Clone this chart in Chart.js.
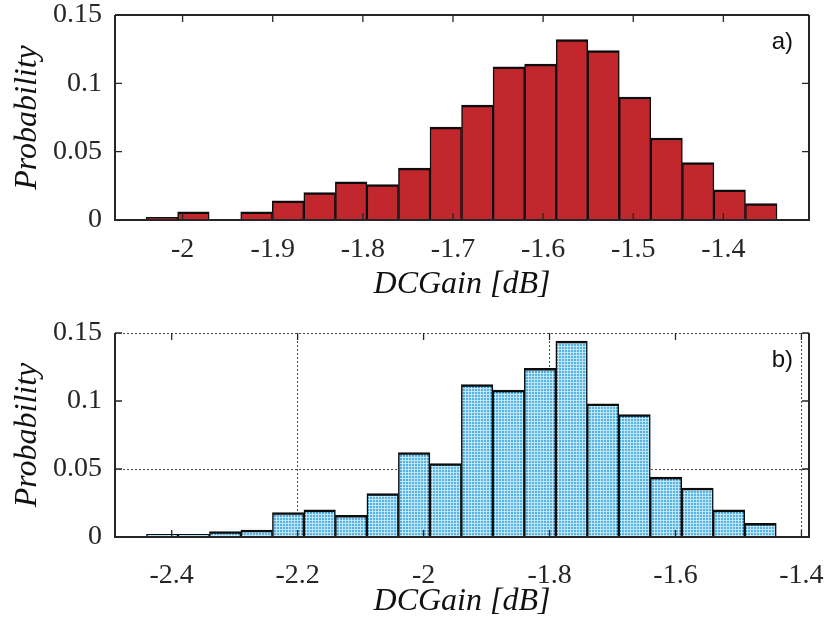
<!DOCTYPE html>
<html>
<head>
<meta charset="utf-8">
<script src="https://cdn.jsdelivr.net/npm/chart.js@4.4.0/dist/chart.umd.min.js"></script>
<style>
  html, body { margin: 0; padding: 0; background: #fff; }
  #wrap { position: relative; width: 831px; height: 621px; }
  canvas { position: absolute; left: 0; }
  #chartA { top: 0; }
  #chartB { top: 310px; }
</style>
</head>
<body>
<div id="wrap">
  <canvas id="chartA" width="831" height="310"></canvas>
  <canvas id="chartB" width="831" height="311"></canvas>
</div>
<script>
// a) bin centres [dB] and probabilities
const binsA = [-2.023, -1.988, -1.953, -1.918, -1.883, -1.848, -1.813, -1.778, -1.743, -1.708,
               -1.673, -1.638, -1.603, -1.568, -1.533, -1.498, -1.463, -1.428, -1.393, -1.358];
const probA = [0.002, 0.006, 0, 0.006, 0.014, 0.020, 0.028, 0.026, 0.038, 0.068,
               0.084, 0.112, 0.114, 0.132, 0.124, 0.090, 0.060, 0.042, 0.022, 0.012];

// b) bin centres [dB] and probabilities
const binsB = [-2.415, -2.365, -2.315, -2.265, -2.215, -2.165, -2.115, -2.065, -2.015, -1.965,
               -1.915, -1.865, -1.815, -1.765, -1.715, -1.665, -1.615, -1.565, -1.515, -1.465];
const probB = [0.002, 0.002, 0.004, 0.005, 0.018, 0.020, 0.016, 0.032, 0.062, 0.054,
               0.112, 0.108, 0.124, 0.144, 0.098, 0.090, 0.044, 0.036, 0.020, 0.010];

// tick labels
const probTicks = [0, 0.05, 0.1, 0.15];
const gainTicksA = [-2, -1.9, -1.8, -1.7, -1.6, -1.5, -1.4];
const gainTicksB = [-2.4, -2.2, -2, -1.8, -1.6, -1.4];
// dotted grid only on these values (panel b)
const gridLinesBx = [-2.2, -1.8, -1.4];
const gridLinesBy = [0.05, 0.15];

const INK = '#262626';
const SERIF = '"Liberation Serif", "Times New Roman", serif';

// light blue dotted fill like the original
function dotPattern() {
    const c = document.createElement('canvas');
    c.width = 3; c.height = 3;
    const g = c.getContext('2d');
    g.fillStyle = 'rgba(50,162,220,0.82)';
    g.fillRect(0, 0, 3, 3);
    g.fillStyle = 'rgba(205,235,249,0.85)';
    g.fillRect(0, 0, 3, 1);
    g.fillRect(0, 0, 1, 3);
    return g.createPattern(c, 'repeat');
}

const near = (v, list) => list.some(t => Math.abs(t - v) < 1e-6);

// keep the plot box where the layout padding puts it
const noScalePadding = s => {
    s.paddingTop = 0; s.paddingBottom = 0;
    s.paddingLeft = 0; s.paddingRight = 0;
};

// box, inner tick marks and panel tag (drawn over the bars)
const framePlugin = {
    id: 'frame',
    afterDatasetsDraw(chart, args, opts) {
        const { ctx, chartArea: a, scales: { x, y } } = chart;
        const len = 7;
        ctx.save();
        ctx.strokeStyle = INK;
        ctx.lineWidth = 1.3;
        ctx.beginPath();
        x.ticks.forEach(t => {
            const px = x.getPixelForValue(t.value);
            ctx.moveTo(px, a.bottom); ctx.lineTo(px, a.bottom - len);
            ctx.moveTo(px, a.top); ctx.lineTo(px, a.top + len);
        });
        y.ticks.forEach(t => {
            const py = y.getPixelForValue(t.value);
            ctx.moveTo(a.left, py); ctx.lineTo(a.left + len, py);
            ctx.moveTo(a.right, py); ctx.lineTo(a.right - len, py);
        });
        ctx.stroke();

        ctx.lineWidth = 2;
        ctx.beginPath();
        if (opts.topEdge) {
            ctx.moveTo(a.left, a.top); ctx.lineTo(a.right, a.top);
        }
        ctx.moveTo(a.right, a.top);
        ctx.lineTo(a.right, a.bottom);
        ctx.lineTo(a.left, a.bottom);
        ctx.lineTo(a.left, a.top);
        ctx.stroke();

        ctx.fillStyle = '#111';
        ctx.font = '24px "Liberation Sans", Arial, sans-serif';
        ctx.textAlign = 'right';
        ctx.textBaseline = 'middle';
        ctx.fillText(opts.tag, a.right - 16, a.top + 27);
        ctx.restore();
    }
};

function makeChart(id, bins, probs, gainTicks, o) {
    return new Chart(document.getElementById(id), {
        type: 'bar',
        data: {
            datasets: [{
                data: bins.map((b, i) => ({ x: b, y: probs[i] })),
                backgroundColor: o.fill,
                borderColor: '#0d0d0d',
                borderWidth: { top: 2.5, left: 1.5, right: 1.5, bottom: 0 },
                borderSkipped: 'start',
                barPercentage: 1,
                categoryPercentage: 1
            }]
        },
        options: {
            responsive: false,
            animation: false,
            layout: {
                autoPadding: false,
                padding: { left: 0, right: 22, top: o.padTop, bottom: 0 }
            },
            plugins: {
                legend: { display: false },
                tooltip: { enabled: false },
                frame: { tag: o.tag, topEdge: o.topEdge }
            },
            scales: {
                x: {
                    type: 'linear',
                    offset: false,
                    min: o.xMin,
                    max: o.xMax,
                    afterBuildTicks: s => { s.ticks = gainTicks.map(v => ({ value: v })); },
                    afterFit: s => { s.height = o.xHeight; noScalePadding(s); },
                    ticks: {
                        padding: o.xTickPad,
                        color: INK,
                        font: { family: SERIF, size: 28 },
                        maxRotation: 0,
                        autoSkip: false,
                        callback: v => String(+v.toFixed(2))
                    },
                    grid: {
                        display: o.grid,
                        offset: false,
                        drawTicks: false,
                        lineWidth: 1,
                        color: c => (c.tick && near(c.tick.value, gridLinesBx)) ? 'rgba(40,40,40,0.85)' : 'rgba(0,0,0,0)'
                    },
                    border: { display: false, dash: [2, 2] },
                    title: {
                        display: true,
                        text: 'DCGain [dB]',
                        color: '#111',
                        font: { family: SERIF, size: 32, style: 'italic' },
                        padding: { top: 0, bottom: o.xTitlePad }
                    }
                },
                y: {
                    min: 0,
                    max: 0.15,
                    afterBuildTicks: s => { s.ticks = probTicks.map(v => ({ value: v })); },
                    afterFit: s => { s.width = 115; noScalePadding(s); },
                    ticks: {
                        padding: 13,
                        color: INK,
                        font: { family: SERIF, size: 28 },
                        callback: v => String(+v.toFixed(3))
                    },
                    grid: {
                        display: o.grid,
                        drawTicks: false,
                        lineWidth: 1,
                        color: c => (c.tick && near(c.tick.value, gridLinesBy)) ? 'rgba(40,40,40,0.85)' : 'rgba(0,0,0,0)'
                    },
                    border: { display: false, dash: [2, 2] },
                    title: {
                        display: true,
                        text: 'Probability',
                        color: '#111',
                        font: { family: SERIF, size: 32, style: 'italic' },
                        padding: { top: 8, bottom: 0 }
                    }
                }
            }
        },
        plugins: [framePlugin]
    });
}

document.addEventListener('DOMContentLoaded', () => {
    makeChart('chartA', binsA, probA, gainTicksA, {
        fill: '#C1272D', tag: 'a)', topEdge: true, grid: false,
        xMin: -2.075, xMax: -1.305,
        padTop: 15, xHeight: 90, xTickPad: 13, xTitlePad: 6
    });
    makeChart('chartB', binsB, probB, gainTicksB, {
        fill: dotPattern(), tag: 'b)', topEdge: false, grid: true,
        xMin: -2.49, xMax: -1.388,
        padTop: 23, xHeight: 84, xTickPad: 22, xTitlePad: 0
    });
});
</script>
</body>
</html>
